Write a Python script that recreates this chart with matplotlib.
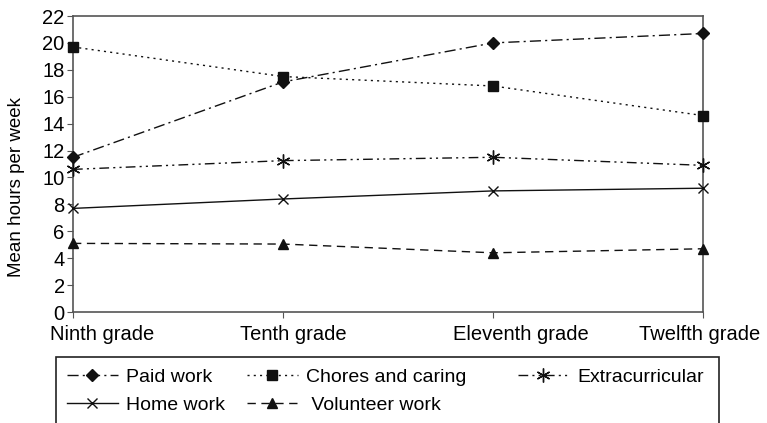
import matplotlib
matplotlib.use("Agg")
import matplotlib.pyplot as plt
from matplotlib.patches import Rectangle
from matplotlib.transforms import ScaledTranslation

plt.rcParams['font.family'] = ['Liberation Sans', 'DejaVu Sans']

grades = ["Ninth grade", "Tenth grade", "Eleventh grade", "Twelfth grade"]
paid_work = [11.5, 17.1, 20.0, 20.7]
chores = [19.7, 17.5, 16.8, 14.6]
extracurricular = [10.6, 11.25, 11.5, 10.9]
home_work = [7.7, 8.4, 9.0, 9.2]
volunteer = [5.1, 5.05, 4.4, 4.7]
yticks = list(range(0, 23, 2))

fig = plt.figure(figsize=(7.67, 4.23), dpi=100)
ax = fig.add_axes([73/767, 1 - 312/423, (703-73)/767, (312-16)/423])

x = list(range(len(grades)))
c = '#111111'
kw = dict(color=c, lw=1.0, clip_on=False, zorder=3)
l1, = ax.plot(x, paid_work, dashes=(8, 3, 1.5, 3), marker='D', ms=6.5, label='Paid work', **kw)
l2, = ax.plot(x, chores, dashes=(1.5, 3), marker='s', ms=6.5, label='Chores and caring', **kw)
l3, = ax.plot(x, extracurricular, dashes=(7, 3, 1.5, 3, 1.5, 3), marker=(6, 2, 0), ms=10, mew=1.0,
              label='Extracurricular', **kw)
l4, = ax.plot(x, home_work, marker='x', ms=7, mew=1.0, label='Home work', **kw)
l5, = ax.plot(x, volunteer, dashes=(6, 4), marker='^', ms=7, label='Volunteer work', **kw)

ax.set_xlim(0, 3)
ax.set_ylim(0, 22)
ax.set_yticks(yticks)
ax.set_xticks(x)
ax.set_xticklabels(grades, fontsize=14.5)
ax.tick_params(axis='y', labelsize=14.5, length=4, color='#555555', pad=2)
ax.tick_params(axis='x', length=4, color='#555555', pad=5)
offsets_px = [29, 10, 28, -3]
for lab, off in zip(ax.get_xticklabels(), offsets_px):
    lab.set_transform(lab.get_transform() + ScaledTranslation(off/100, 0, fig.dpi_scale_trans))
for s in ax.spines.values():
    s.set_color('#555555')
    s.set_linewidth(1.2)
ax.set_ylabel("Mean hours per week", fontsize=13.5)
ax.yaxis.set_label_coords(25/767, 1 - 187/423, transform=fig.transFigure)

fs = 14
common = dict(frameon=False, fontsize=fs, handlelength=2.6, handletextpad=0.45,
              labelspacing=0.55, borderaxespad=0, borderpad=0, loc='upper left')
top = 1 - 368/423
legA = fig.legend([l1, l4], ['Paid work', 'Home work'], bbox_to_anchor=(67/767, top), **common)
legB = fig.legend([l2, l5], ['Chores and caring', ' Volunteer work'], bbox_to_anchor=(247/767, top), **common)
legC = fig.legend([l3], ['Extracurricular'], bbox_to_anchor=(518/767, top), **common)
fig.add_artist(Rectangle((56/767, -0.05), (719-56)/767, (0.05 + 1 - 357/423),
                         transform=fig.transFigure, fill=False, edgecolor='#222222', lw=1.2))

fig.savefig("out.png", dpi=100)
